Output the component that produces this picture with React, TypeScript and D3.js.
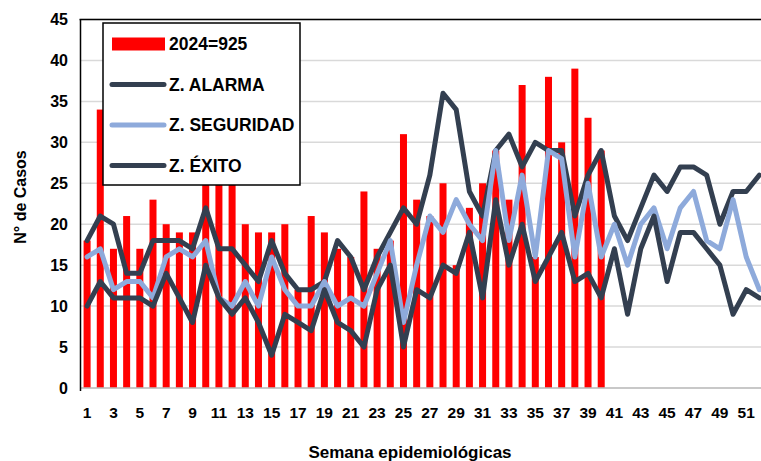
import React from "react";
import * as d3 from "d3";

const weeks: number[] = Array.from({ length: 52 }, (_, i) => i + 1);

const cases2024: number[] = [
  18, 34, 17, 21, 17, 23, 20, 19, 19, 27, 26, 26, 20, 19, 19, 20, 12, 21, 19, 17,
  16, 24, 17, 18, 31, 23, 21, 25, 15, 22, 25, 29, 23, 37, 16, 38, 30, 39, 33, 29,
];

const alarma: number[] = [
  18, 21, 20, 14, 14, 18, 18, 18, 17, 22, 17, 17, 15, 13, 18, 14, 12, 12, 13, 18,
  16, 12, 16, 19, 22, 20, 26, 36, 34, 24, 21, 29, 31, 27, 30, 29, 29, 21, 26, 29,
  21, 18, 22, 26, 24, 27, 27, 26, 20, 24, 24, 26,
];

const seguridad: number[] = [
  16, 17, 12, 13, 13, 11, 16, 17, 16, 18, 11, 10, 13, 10, 16, 12, 10, 10, 13, 10,
  11, 10, 14, 18, 8, 15, 21, 19, 23, 20, 18, 29, 18, 26, 16, 29, 28, 16, 25, 16,
  20, 15, 20, 22, 17, 22, 24, 18, 17, 23, 16, 12,
];

const exito: number[] = [
  10, 13, 11, 11, 11, 10, 14, 11, 8, 15, 11, 9, 11, 8, 4, 9, 8, 7, 12, 8,
  7, 5, 12, 15, 5, 12, 11, 15, 14, 19, 11, 23, 15, 20, 13, 16, 19, 13, 14, 11,
  17, 9, 17, 21, 13, 19, 19, 17, 15, 9, 12, 11,
];

const yTicks: number[] = [0, 5, 10, 15, 20, 25, 30, 35, 40, 45];
const xTickLabels: number[] = weeks.filter((w) => w % 2 === 1);

const legendItems = [
  { label: "2024=925", type: "bar", color: "#ff0000" },
  { label: "Z. ALARMA", type: "line", color: "#333f50" },
  { label: "Z. SEGURIDAD", type: "line", color: "#8eaadb" },
  { label: "Z. ÉXITO", type: "line", color: "#333f50" },
];

const W = 761;
const H = 461;
const FONT = "'Liberation Sans', Arial, sans-serif";

export default function App() {
  const plotLeft = 80.5;
  const plotRight = 766;
  const plotTop = 19.5;
  const plotBottom = 388;

  const step = (plotRight - plotLeft) / weeks.length;
  const x = d3
    .scaleLinear()
    .domain([0.5, weeks.length + 0.5])
    .range([plotLeft, plotRight]);
  const cx = (w: number) => x(w);
  const barW = 7;

  const y = d3.scaleLinear().domain([0, 45]).range([plotBottom, plotTop]);

  const line = d3
    .line<number>()
    .x((_, i) => cx(weeks[i]))
    .y((v) => y(v));

  const series = [
    { data: alarma, color: "#333f50" },
    { data: seguridad, color: "#8eaadb" },
    { data: exito, color: "#333f50" },
  ];

  return (
    <svg
      width={W}
      height={H}
      style={{ position: "absolute", left: 0, top: 0, background: "#fff" }}
      fontFamily={FONT}
    >
      <rect x={0} y={0} width={W} height={H} fill="#fff" />
      {yTicks.map((t) => (
        <line
          key={"g" + t}
          x1={plotLeft}
          x2={plotRight}
          y1={y(t)}
          y2={y(t)}
          stroke="#d9d9d9"
          strokeWidth={1.5}
        />
      ))}
      {cases2024.map((v, i) => (
        <rect
          key={"b" + i}
          x={cx(weeks[i]) - barW / 2}
          y={y(v)}
          width={barW}
          height={y(0) - y(v)}
          fill="#ff0000"
        />
      ))}
      {series.map((s, k) => (
        <path
          key={"l" + k}
          d={line(s.data) || ""}
          fill="none"
          stroke={s.color}
          strokeWidth={5}
          strokeLinejoin="round"
          strokeLinecap="round"
        />
      ))}
      <line x1={plotLeft} x2={plotRight} y1={plotBottom} y2={plotBottom} stroke="#bfbfbf" strokeWidth={1.5} />
      <line x1={plotLeft - 1} x2={plotRight} y1={plotTop} y2={plotTop} stroke="#000" strokeWidth={1.5} />
      <line x1={plotLeft} x2={plotLeft} y1={plotTop} y2={plotBottom + 3} stroke="#000" strokeWidth={1.5} />
      {yTicks.map((t) => (
        <text
          key={"yt" + t}
          x={68}
          y={y(t)}
          dy="0.35em"
          textAnchor="end"
          fontSize={16}
          fontWeight="bold"
          fill="#000"
        >
          {t}
        </text>
      ))}
      {xTickLabels.map((w) => (
        <text
          key={"xt" + w}
          x={cx(w)}
          y={418}
          textAnchor="middle"
          fontSize={15.5}
          fontWeight="bold"
          fill="#000"
        >
          {w}
        </text>
      ))}
      <text x={410} y={458} textAnchor="middle" fontSize={17} fontWeight="bold" fill="#000">
        Semana epidemiológicas
      </text>
      <text
        transform={`translate(26,197) rotate(-90)`}
        textAnchor="middle"
        fontSize={16}
        fontWeight="bold"
        fill="#000"
      >
        N° de Casos
      </text>
      <g>
        <rect x={103} y={23} width={197} height={162} fill="#fff" stroke="#000" strokeWidth={1.5} />
        {legendItems.map((it, i) => {
          const cy = 44 + i * 40.5;
          return (
            <g key={"lg" + i}>
              {it.type === "bar" ? (
                <rect x={112} y={cy - 6.5} width={53} height={13} fill={it.color} />
              ) : (
                <line
                  x1={112}
                  x2={164}
                  y1={cy}
                  y2={cy}
                  stroke={it.color}
                  strokeWidth={5}
                  strokeLinecap="round"
                />
              )}
              <text x={169} y={cy} dy="0.36em" fontSize={17.5} fontWeight="bold" fill="#000">
                {it.label}
              </text>
            </g>
          );
        })}
      </g>
    </svg>
  );
}
